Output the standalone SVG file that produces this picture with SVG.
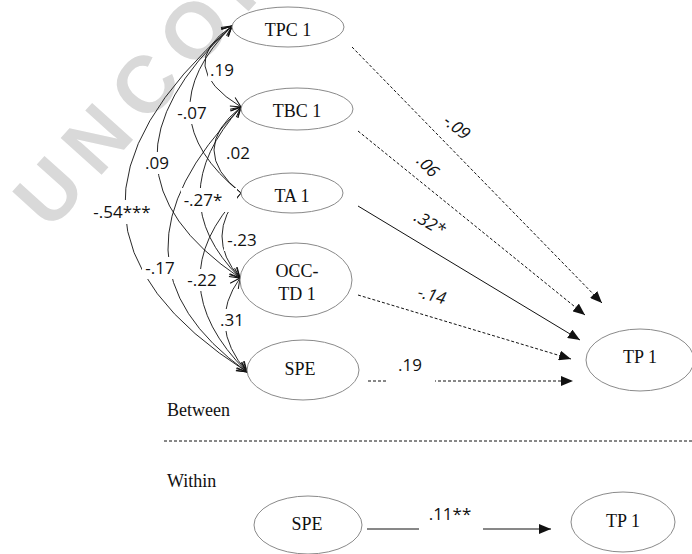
<svg xmlns="http://www.w3.org/2000/svg" width="692" height="554" viewBox="0 0 692 554">
<style>
.node ellipse{fill:#fff;stroke:#8a8a8a;stroke-width:1}
.node text{font-family:"Liberation Serif","Times New Roman",serif;font-size:18px;fill:#111;text-anchor:middle}
.sec{font-family:"Liberation Serif","Times New Roman",serif;font-size:18px;fill:#111}
.arc{fill:none;stroke:#111;stroke-width:0.9}
.path{fill:none;stroke:#111;stroke-width:1}
.dash{stroke-dasharray:3 2}
.lbl{font-family:"Open Sans","Liberation Sans",sans-serif;font-size:17px;fill:#111;text-anchor:middle}
.it{font-style:italic}
.bg{fill:#fff}
.wm{font-family:"Liberation Sans",Arial,sans-serif;font-weight:bold;font-size:80px;fill:#d9d9d9;letter-spacing:14px}
</style>
<defs>
<marker id="open" viewBox="-1 -6 12 12" refX="10" refY="0" markerWidth="12" markerHeight="12" markerUnits="userSpaceOnUse" orient="auto-start-reverse">
<path d="M0,-5 L10,0 L0,5" fill="none" stroke="#111" stroke-width="1"/>
</marker>
<marker id="solid" viewBox="0 0 12 10" refX="12" refY="5" markerWidth="12" markerHeight="10" markerUnits="userSpaceOnUse" orient="auto">
<path d="M0,0 L12,5 L0,10 z" fill="#111"/>
</marker>
</defs>
<rect width="692" height="554" fill="#fff"/>
<text class="wm" transform="translate(50,232) rotate(-48)">UNCORRECTED PROOF</text>

<g id="connectors">
<path class="arc" marker-start="url(#open)" marker-end="url(#open)" d="M232,26 Q173.5,65.5 241,107"/>
<path class="arc" marker-start="url(#open)" d="M232,26 Q143.5,114.5 241,193"/>
<path class="arc" marker-start="url(#open)" marker-end="url(#open)" d="M232,26 Q78,168 240,278"/>
<path class="arc" marker-start="url(#open)" marker-end="url(#open)" d="M232,26 Q10.5,221 247,372"/>
<path class="arc" marker-start="url(#open)" d="M241,107 Q187,150 241,193"/>
<path class="arc" marker-start="url(#open)" marker-end="url(#open)" d="M241,107 Q159.5,197.5 240,278"/>
<path class="arc" marker-start="url(#open)" marker-end="url(#open)" d="M241,107 Q92,260.5 247,372"/>
<path class="arc" marker-end="url(#open)" d="M241,193 Q203.5,236.5 240,278"/>
<path class="arc" marker-end="url(#open)" d="M241,193 Q156,281.5 247,372"/>
<path class="arc" marker-start="url(#open)" marker-end="url(#open)" d="M240,278 Q206.5,325 247,372"/>
<circle cx="241" cy="193" r="1.2" fill="#111"/>

<rect class="bg" x="208" y="59" width="29" height="22"/><text class="lbl" x="222" y="76">.19</text>
<rect class="bg" x="174" y="102" width="37" height="22"/><text class="lbl" x="192" y="119">-.07</text>
<rect class="bg" x="142" y="152" width="31" height="22"/><text class="lbl" x="157" y="169">.09</text>
<rect class="bg" x="91" y="200" width="62" height="24"/><text class="lbl" x="122" y="218">-.54***</text>
<rect class="bg" x="223" y="142" width="31" height="22"/><text class="lbl" x="238" y="159">.02</text>
<rect class="bg" x="181" y="188" width="56" height="24"/><text class="lbl" x="203" y="206">-.27*</text>
<rect class="bg" x="142" y="257" width="37" height="22"/><text class="lbl" x="160" y="274">-.17</text>
<rect class="bg" x="224" y="229" width="37" height="22"/><text class="lbl" x="242" y="246">-.23</text>
<rect class="bg" x="184" y="269" width="37" height="22"/><text class="lbl" x="202" y="286">-.22</text>
<rect class="bg" x="217" y="309" width="31" height="22"/><text class="lbl" x="232" y="326">.31</text>

<line class="path dash" x1="352" y1="47" x2="602" y2="303" marker-end="url(#solid)"/>
<line class="path dash" x1="358" y1="131" x2="585" y2="315" marker-end="url(#solid)"/>
<line class="path" x1="358" y1="206" x2="580" y2="340" marker-end="url(#solid)"/>
<line class="path dash" x1="358" y1="295" x2="571" y2="359" marker-end="url(#solid)"/>
<line class="path dash" x1="368" y1="381" x2="573" y2="381" marker-end="url(#solid)"/>
<line class="path dash" x1="164" y1="441" x2="692" y2="441"/>
<line class="path" x1="367" y1="529" x2="551" y2="529" marker-end="url(#solid)"/>

<g transform="translate(457,127) rotate(38)"><rect class="bg" x="-17" y="-10" width="34" height="18"/><text class="lbl it" x="0" y="6">-.09</text></g>
<g transform="translate(428,166) rotate(45)"><text class="lbl it" x="0" y="6">.06</text></g>
<g transform="translate(430,223) rotate(30)"><text class="lbl it" x="0" y="6">.32*</text></g>
<g transform="translate(432,295) rotate(15)"><text class="lbl it" x="0" y="6">-.14</text></g>
<rect class="bg" x="386" y="352" width="49" height="34"/><text class="lbl" x="410" y="371">.19</text>
<rect class="bg" x="419" y="502" width="64" height="34"/><text class="lbl" x="450" y="520">.11**</text>
</g>

<g id="TPC1" class="node"><ellipse cx="288" cy="27" rx="56" ry="20"/><text x="288" y="36">TPC 1</text></g>
<g id="TBC1" class="node"><ellipse cx="297" cy="109" rx="56" ry="21"/><text x="297" y="117">TBC 1</text></g>
<g id="TA1" class="node"><ellipse cx="292" cy="193" rx="51" ry="20"/><text x="292" y="202">TA 1</text></g>
<g id="OCCTD1" class="node"><ellipse cx="296" cy="280" rx="56" ry="37"/><text x="297" y="277">OCC-</text><text x="297" y="300">TD 1</text></g>
<g id="SPE_between" class="node"><ellipse cx="303" cy="370" rx="56" ry="30"/><text x="300" y="375">SPE</text></g>
<g id="TP1_between" class="node"><ellipse cx="640" cy="360" rx="54" ry="31"/><text x="640" y="363">TP 1</text></g>
<g id="SPE_within" class="node"><ellipse cx="308" cy="525" rx="54" ry="29"/><text x="307" y="530">SPE</text></g>
<g id="TP1_within" class="node"><ellipse cx="623" cy="522" rx="52" ry="30"/><text x="623" y="527">TP 1</text></g>

<text class="sec" x="167" y="416">Between</text>
<text class="sec" x="167" y="487">Within</text>
</svg>
